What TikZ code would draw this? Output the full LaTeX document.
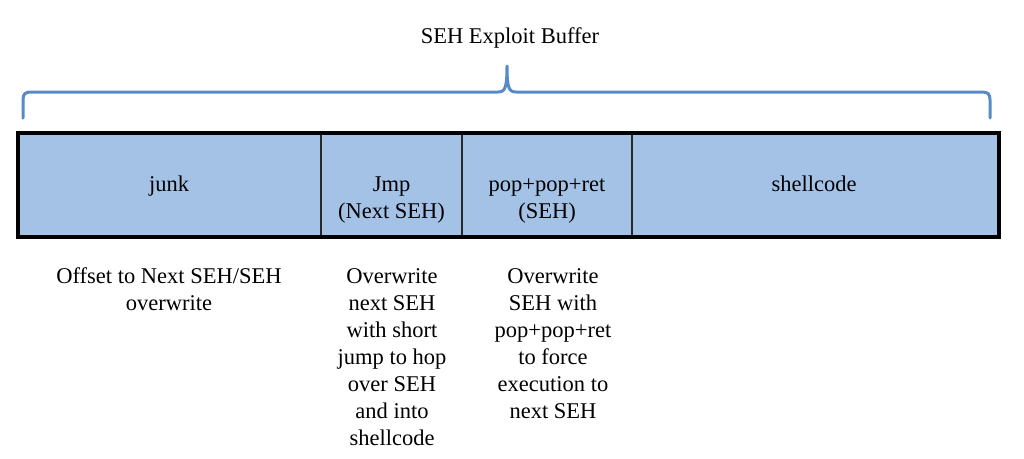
\documentclass[tikz,border=0pt]{standalone}
\usepackage{fontspec}
\setmainfont{Liberation Serif}
\definecolor{cellfill}{RGB}{164,194,230}
\definecolor{bracecol}{RGB}{88,138,200}
\definecolor{divcol}{RGB}{40,40,40}
\begin{document}
\begin{tikzpicture}[x=1pt,y=-1pt,
  lbl/.style={anchor=base, inner sep=0pt, font=\fontsize{22.5}{27}\selectfont},
  bracestyle/.style={draw=bracecol, line width=3pt, line cap=round, line join=round},
  divider/.style={draw=divcol, line width=1.2pt},
  outerbox/.style={draw=black, line width=4pt, fill=cellfill}]
\useasboundingbox (0,0) rectangle (1024,458);
% title
\node[lbl] (title) at (510,43) {SEH Exploit Buffer};
% brace
\draw[bracestyle] (23,118) -- (23,100) .. controls (23,94) and (25,92) .. (31,92)
  -- (498,92) .. controls (505,92) and (507,88) .. (507,66)
  .. controls (507,88) and (509,92) .. (516,92)
  -- (982,92) .. controls (988,92) and (990,94) .. (990,100) -- (990,118);
% buffer
\draw[outerbox] (17.5,133) rectangle (998.5,237);
\coordinate (d1t) at (321,135); \coordinate (d1b) at (321,235);
\coordinate (d2t) at (462,135); \coordinate (d2b) at (462,235);
\coordinate (d3t) at (632,135); \coordinate (d3b) at (632,235);
\draw[divider] (d1t) -- (d1b);
\draw[divider] (d2t) -- (d2b);
\draw[divider] (d3t) -- (d3b);
% cell labels
\node[lbl] (junk) at (169,191) {junk};
\node[lbl] (jmp) at (391.5,191) {\begin{tabular}[t]{@{}c@{}}Jmp\\(Next SEH)\end{tabular}};
\node[lbl] (ppr) at (547,191) {\begin{tabular}[t]{@{}c@{}}pop+pop+ret\\(SEH)\end{tabular}};
\node[lbl] (shell) at (814,191) {shellcode};
% descriptions
\node[lbl] (djunk) at (169,283) {\begin{tabular}[t]{@{}c@{}}Offset to Next SEH/SEH\\overwrite\end{tabular}};
\node[lbl] (djmp) at (392,283) {\begin{tabular}[t]{@{}c@{}}Overwrite\\next SEH\\with short\\jump to hop\\over SEH\\and into\\shellcode\end{tabular}};
\node[lbl] (dppr) at (553,283) {\begin{tabular}[t]{@{}c@{}}Overwrite\\SEH with\\pop+pop+ret\\to force\\execution to\\next SEH\end{tabular}};
\end{tikzpicture}
\end{document}
